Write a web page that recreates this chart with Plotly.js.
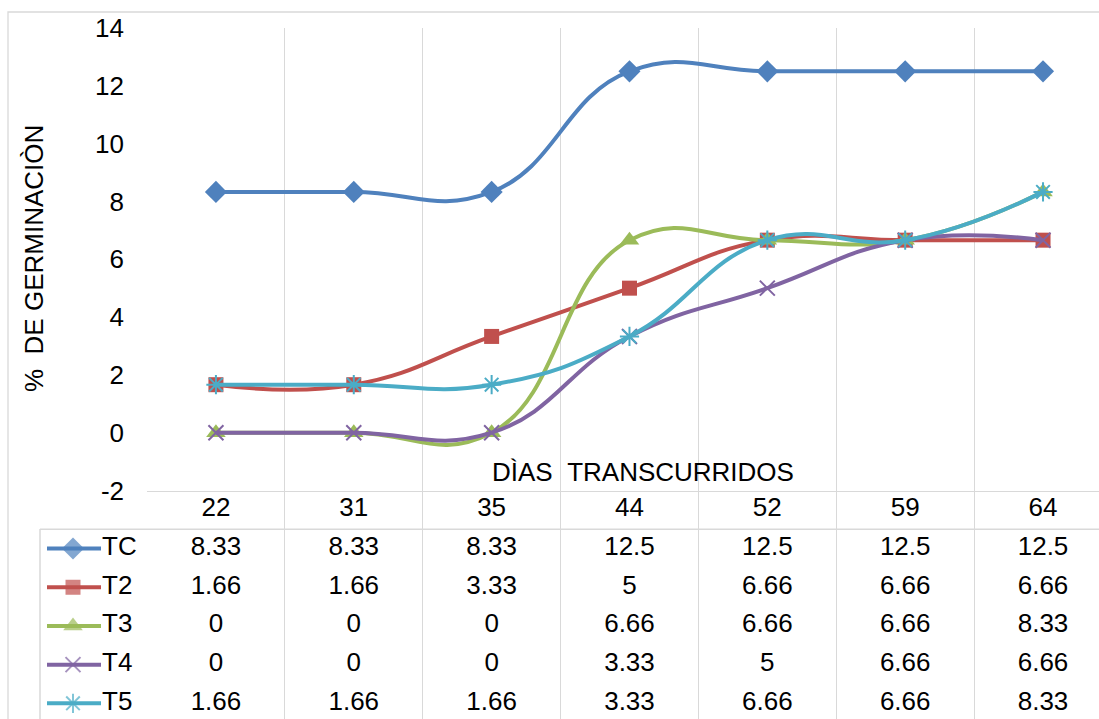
<!DOCTYPE html>
<html>
<head>
<meta charset="utf-8">
<script src="https://cdn.plot.ly/plotly-3.0.1.min.js"></script>
<style>html,body{margin:0;padding:0;background:#fff;}#chart{width:1099px;height:719px;}</style>
</head>
<body>
<div id="chart"></div>
<script>
// ---- data ----
const dias = ['22', '31', '35', '44', '52', '59', '64'];
const seriesNames = ['TC', 'T2', 'T3', 'T4', 'T5'];
const TC = [8.33, 8.33, 8.33, 12.5, 12.5, 12.5, 12.5];
const T2 = [1.66, 1.66, 3.33, 5, 6.66, 6.66, 6.66];
const T3 = [0, 0, 0, 6.66, 6.66, 6.66, 8.33];
const T4 = [0, 0, 0, 3.33, 5, 6.66, 6.66];
const T5 = [1.66, 1.66, 1.66, 3.33, 6.66, 6.66, 8.33];
const yTickVals = [-2, 0, 2, 4, 6, 8, 10, 12, 14];
const yTickText = ['-2', '0', '2', '4', '6', '8', '10', '12', '14'];
const yTitle = '%\u00a0\u00a0DE GERMINACIÒN';
const xTitle = 'DÌAS\u00a0\u00a0TRANSCURRIDOS';

// ---- styles ----
const W = 1099, H = 719;
const FONT = '"Liberation Sans", Arial, sans-serif';
const FS = 26;
const styles = [
  {color: '#4F81BD', symbol: 'diamond', size: 17, lw: 0},
  {color: '#C0504D', symbol: 'square', size: 15, lw: 0},
  {color: '#9BBB59', symbol: 'triangle-up', size: 17, lw: 0},
  {color: '#8064A2', symbol: 'x-thin-open', size: 15, lw: 2},
  {color: '#4BACC6', symbol: 'asterisk-open', size: 16, lw: 2}
];
const allSeries = [TC, T2, T3, T4, T5];

const px = v => v / W;           // horizontal pixel -> paper
const py = v => 1 - v / H;       // vertical pixel -> paper

const traces = [];
// main lines
allSeries.forEach((vals, i) => {
  const s = styles[i];
  traces.push({
    type: 'scatter', mode: 'lines+markers', name: seriesNames[i],
    x: dias, y: vals, xaxis: 'x', yaxis: 'y',
    line: {color: s.color, width: 4, shape: 'spline', smoothing: 1.3},
    marker: {symbol: s.symbol, size: s.size, color: s.color,
             line: {color: s.color, width: s.lw}},
    cliponaxis: false, showlegend: false, hoverinfo: 'x+y+name'
  });
});
// table header (categories)
traces.push({
  type: 'scatter', mode: 'text', x: dias, y: dias.map(() => 0),
  text: dias, textposition: 'middle center', xaxis: 'x', yaxis: 'y2',
  textfont: {family: FONT, size: FS, color: '#000'}, showlegend: false, hoverinfo: 'skip'
});
// table values
allSeries.forEach((vals, i) => {
  traces.push({
    type: 'scatter', mode: 'text', x: dias, y: dias.map(() => i + 1),
    text: vals.map(v => String(v)), textposition: 'middle center',
    xaxis: 'x', yaxis: 'y2',
    textfont: {family: FONT, size: FS, color: '#000'}, showlegend: false, hoverinfo: 'skip'
  });
});
// legend keys in table
allSeries.forEach((vals, i) => {
  const s = styles[i];
  traces.push({
    type: 'scatter', mode: 'lines+markers',
    x: [7, 33, 61], y: [i + 1, i + 1, i + 1], xaxis: 'x2', yaxis: 'y2',
    line: {color: s.color, width: 4},
    marker: {symbol: s.symbol, size: [0, s.size, 0], color: s.color,
             line: {color: s.color, width: s.lw}},
    cliponaxis: false, showlegend: false, hoverinfo: 'skip'
  });
});
traces.push({
  type: 'scatter', mode: 'text', x: seriesNames.map(() => 62),
  y: seriesNames.map((n, i) => i + 1), text: seriesNames,
  textposition: 'middle right', xaxis: 'x2', yaxis: 'y2',
  textfont: {family: FONT, size: FS, color: '#000'}, showlegend: false, hoverinfo: 'skip'
});

const grid = '#d9d9d9';
const layout = {
  width: W, height: H,
  margin: {l: 0, r: 0, t: 0, b: 0, pad: 0},
  paper_bgcolor: '#fff', plot_bgcolor: 'rgba(0,0,0,0)',
  font: {family: FONT, size: FS, color: '#000'},
  showlegend: false,
  xaxis: {
    domain: [px(147), 1], range: [-0.5, 6.406], type: 'category',
    anchor: 'y', showgrid: true, gridcolor: grid, gridwidth: 1,
    tickson: 'boundaries', ticks: '', showticklabels: false,
    showline: true, linecolor: grid, linewidth: 1, zeroline: false, fixedrange: true
  },
  yaxis: {
    domain: [py(490.5), py(28)], range: [-2, 14], anchor: 'x',
    tickvals: yTickVals, ticktext: yTickText, ticks: '', showgrid: false, zeroline: false,
    showline: false, ticklabelstandoff: 22,
    tickfont: {family: FONT, size: FS, color: '#000'}, fixedrange: true
  },
  yaxis2: {
    domain: [0, py(490.5)], range: [5.404, -0.5], anchor: 'x',
    showgrid: false, zeroline: false, showticklabels: false, ticks: '', fixedrange: true
  },
  xaxis2: {
    domain: [px(40), px(147)], range: [0, 107], anchor: 'y2',
    showgrid: false, zeroline: false, showticklabels: false, ticks: '', fixedrange: true
  },
  shapes: [
    // chart outer border
    {type: 'rect', xref: 'paper', yref: 'paper', x0: px(8), x1: 1.05, y0: -0.05, y1: py(12),
     line: {color: grid, width: 1.3}, layer: 'below'},
    // table top line (below header row)
    {type: 'line', xref: 'paper', yref: 'y2', x0: px(40), x1: 1, y0: 0.5, y1: 0.5,
     line: {color: grid, width: 1.5}, layer: 'below'},
    // table left border
    {type: 'line', xref: 'paper', yref: 'paper', x0: px(40), x1: px(40), y0: 0, y1: py(529),
     line: {color: grid, width: 1.5}, layer: 'below'}
  ],
  annotations: [
    {text: xTitle, xref: 'paper', yref: 'paper', x: px(643), y: py(472),
     showarrow: false, xanchor: 'center', yanchor: 'middle',
     font: {family: FONT, size: FS, color: '#000'}},
    {text: yTitle, xref: 'paper', yref: 'paper', x: px(34), y: py(259),
     showarrow: false, xanchor: 'center', yanchor: 'middle', textangle: -90,
     font: {family: FONT, size: FS, color: '#000'}}
  ]
};

Plotly.newPlot('chart', traces, layout, {displayModeBar: false, staticPlot: true});
</script>
</body>
</html>
